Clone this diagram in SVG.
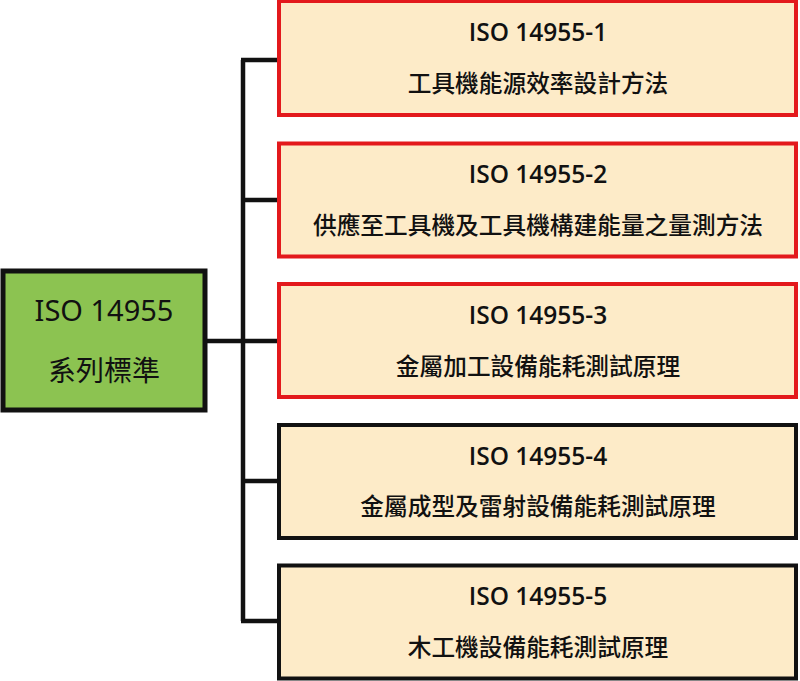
<svg xmlns="http://www.w3.org/2000/svg" width="800" height="681" viewBox="0 0 800 681">
<style>
.bg{fill:#ffffff}
.box{fill:#fdebc8;stroke-width:4}
.red{stroke:#e3191c}
.blk{stroke:#111111}
.root{fill:#8cc351;stroke:#111111;stroke-width:5}
.conn{fill:none;stroke:#111111;stroke-width:4.5;stroke-linecap:butt}
.iso{font-family:"Open Sans","Noto Sans","Liberation Sans",sans-serif;font-weight:600;font-size:24.5px;fill:#111;text-anchor:middle}
.cjk{font-family:"Noto Sans CJK TC",sans-serif;font-weight:500;font-size:23.7px;fill:#111;text-anchor:middle}
.rootiso{font-family:"Noto Sans","Liberation Sans",sans-serif;font-weight:400;font-size:29px;fill:#111;text-anchor:middle}
.rootcjk{font-family:"Noto Sans CJK TC",sans-serif;font-weight:400;font-size:28px;fill:#111;text-anchor:middle}
</style>
<rect class="bg" x="0" y="0" width="800" height="681"/>
<g id="connectors">
<path class="conn" d="M207 341 H243 M243 60 V621 M241 60 H279 M241 200 H279 M241 341 H279 M241 481 H279 M241 621 H279"/>
</g>
<g id="root">
<rect class="root" x="3" y="271" width="202" height="139"/>
<text class="rootiso" x="104" y="321">ISO 14955</text>
<text class="rootcjk" x="104" y="381">系列標準</text>
</g>
<g id="iso1">
<rect class="box red" x="279" y="1" width="517" height="114"/>
<text class="iso" x="538" y="41">ISO 14955-1</text>
<text class="cjk" x="538" y="92">工具機能源效率設計方法</text>
</g>
<g id="iso2">
<rect class="box red" x="279" y="143.5" width="517" height="113"/>
<text class="iso" x="538" y="182.5">ISO 14955-2</text>
<text class="cjk" x="538" y="233.5">供應至工具機及工具機構建能量之量測方法</text>
</g>
<g id="iso3">
<rect class="box red" x="279" y="284" width="517" height="113"/>
<text class="iso" x="538" y="323.5">ISO 14955-3</text>
<text class="cjk" x="538" y="374.5">金屬加工設備能耗測試原理</text>
</g>
<g id="iso4">
<rect class="box blk" x="279" y="425" width="517" height="113"/>
<text class="iso" x="538" y="464.5">ISO 14955-4</text>
<text class="cjk" x="538" y="515">金屬成型及雷射設備能耗測試原理</text>
</g>
<g id="iso5">
<rect class="box blk" x="279" y="565.5" width="517" height="113"/>
<text class="iso" x="538" y="605">ISO 14955-5</text>
<text class="cjk" x="538" y="656">木工機設備能耗測試原理</text>
</g>
</svg>
